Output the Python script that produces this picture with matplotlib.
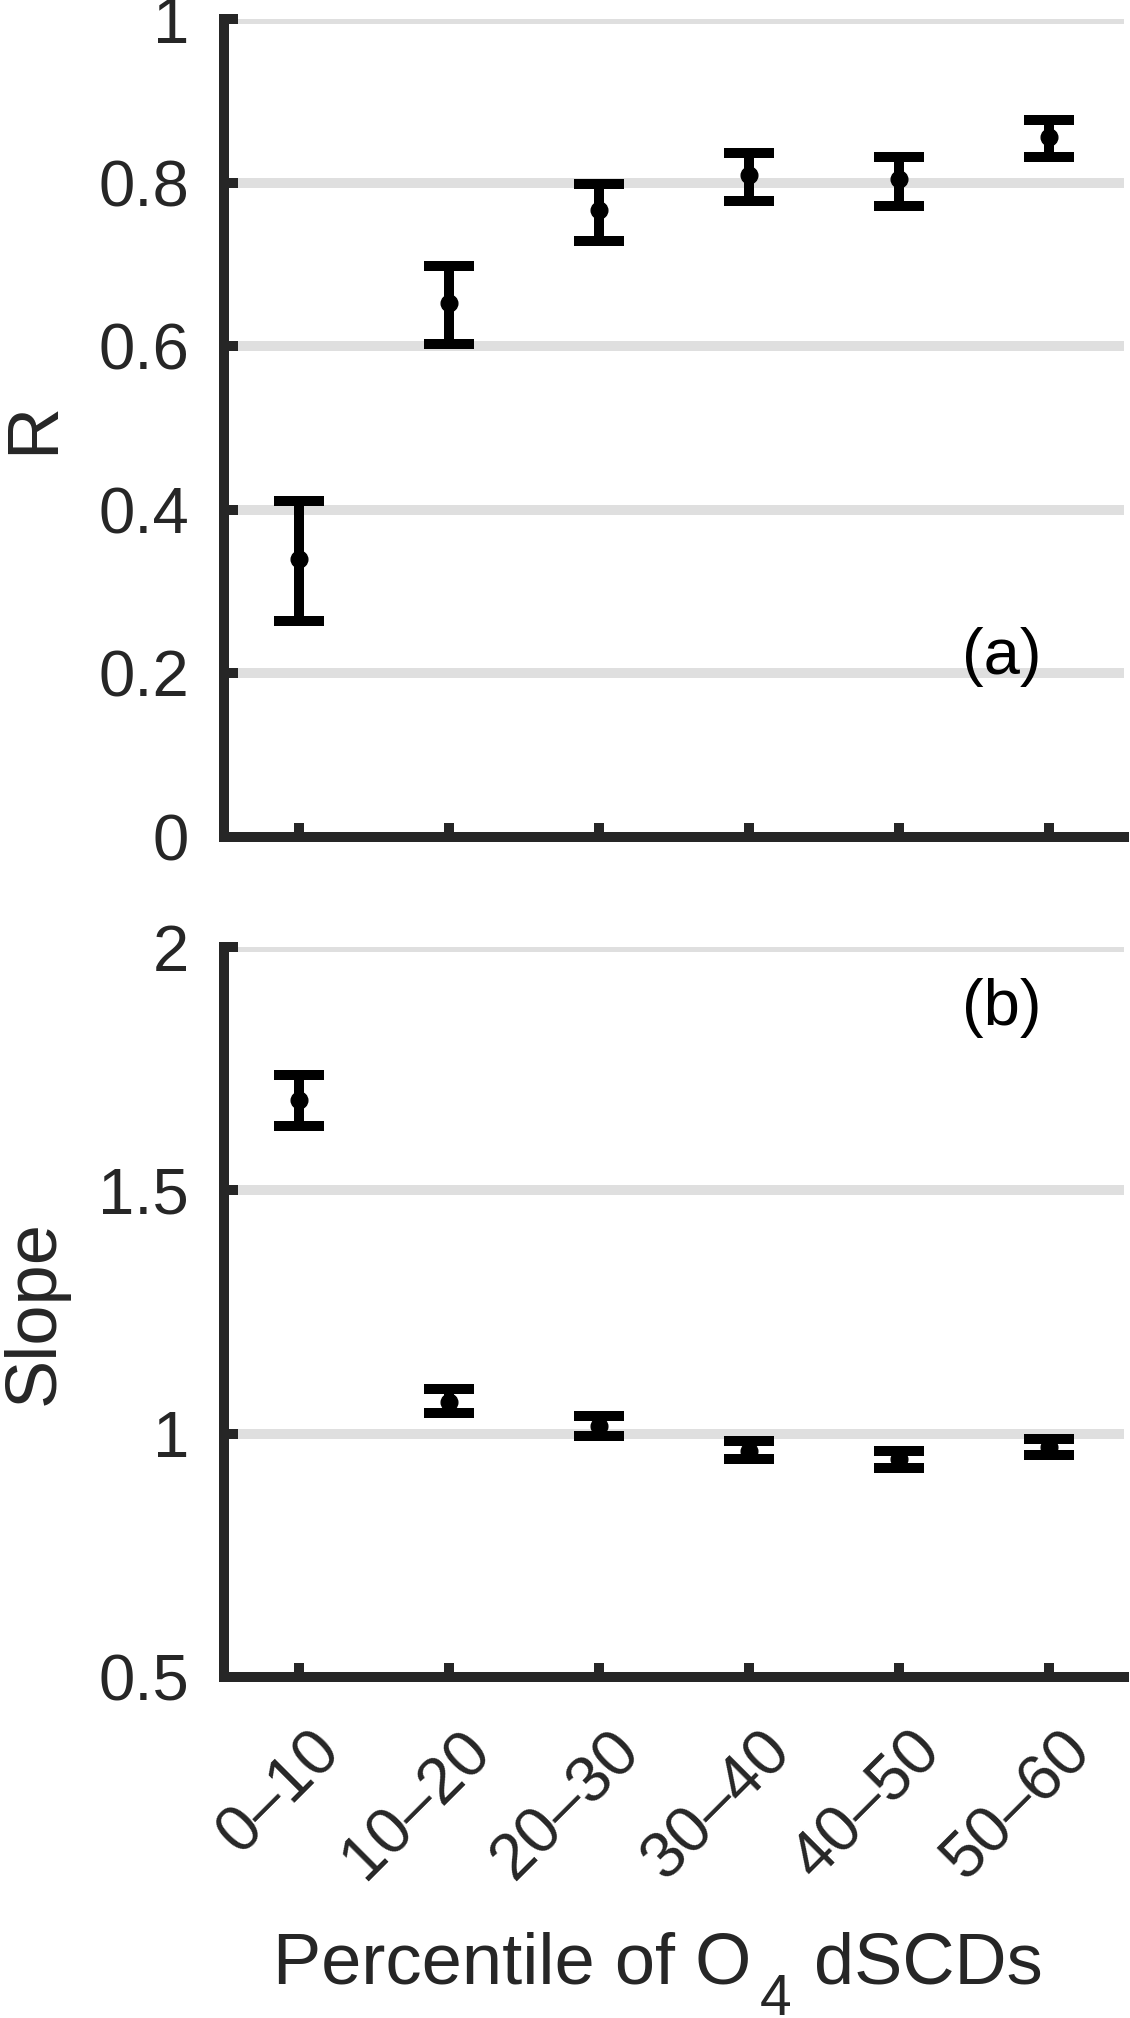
import numpy as np
import matplotlib
matplotlib.use("Agg")
import matplotlib.pyplot as plt
from matplotlib.transforms import ScaledTranslation

plt.rcParams['font.family'] = ['Liberation Sans', 'DejaVu Sans']

# data
categorias = ['0–10', '10–20', '20–30', '30–40', '40–50', '50–60']
r_media = [0.340, 0.653, 0.767, 0.809, 0.804, 0.856]
r_baixo = [0.264, 0.603, 0.729, 0.778, 0.772, 0.832]
r_alto = [0.411, 0.698, 0.799, 0.836, 0.831, 0.877]
slope_media = [1.685, 1.066, 1.015, 0.965, 0.947, 0.972]
slope_baixo = [1.632, 1.042, 0.995, 0.947, 0.929, 0.957]
slope_alto = [1.737, 1.092, 1.037, 0.984, 0.965, 0.989]
r_ticks = [0, 0.2, 0.4, 0.6, 0.8, 1]
r_ticklabels = ['0', '0.2', '0.4', '0.6', '0.8', '1']
slope_ticks = [0.5, 1, 1.5, 2]
slope_ticklabels = ['0.5', '1', '1.5', '2']

cor_texto = '#262626'
lw = 7.2
fs_tick = 47
fs_label = 52

W, H = 1130, 2018
fig = plt.figure(figsize=(W / 100, H / 100), dpi=100)
ax1 = fig.add_axes([0.1982, 0.5852, 0.7965, 0.4053])
ax2 = fig.add_axes([0.1982, 0.1690, 0.7965, 0.3617])

x = np.arange(1, len(categorias) + 1)


def estilo(ax, ticks, ticklabels, ylim):
    ax.set_xlim(0.5, 6.5)
    ax.set_ylim(*ylim)
    ax.set_xticks(x)
    ax.set_yticks(ticks)
    ax.set_yticklabels(ticklabels)
    for s in ['top', 'right']:
        ax.spines[s].set_visible(False)
    for s in ['left', 'bottom']:
        ax.spines[s].set_linewidth(lw)
        ax.spines[s].set_color(cor_texto)
    ax.tick_params(direction='in', length=10, width=lw, color=cor_texto,
                   labelcolor=cor_texto, labelsize=fs_tick)
    ax.tick_params(axis='y', pad=25)
    ax.yaxis.grid(True, color='#dfdfdf', lw=lw)
    ax.set_axisbelow(True)


def barras(ax, media, baixo, alto):
    media = np.array(media)
    yerr = [media - np.array(baixo), np.array(alto) - media]
    ax.errorbar(x, media, yerr=yerr, fmt='o', color='black', ms=12,
                elinewidth=lw, capsize=18, capthick=lw, zorder=3)


estilo(ax1, r_ticks, r_ticklabels, (0, 1))
barras(ax1, r_media, r_baixo, r_alto)
ax1.set_xticklabels([])
ax1.set_ylabel('R', fontsize=fs_label, color=cor_texto)
ax1.yaxis.set_label_coords(-0.173, 0.5)
ax1.text(0.864, 0.22, '(a)', transform=ax1.transAxes, ha='center', va='center',
         fontsize=fs_tick, color='black')

estilo(ax2, slope_ticks, slope_ticklabels, (0.5, 2))
barras(ax2, slope_media, slope_baixo, slope_alto)
ax2.set_xticklabels(categorias, rotation=45, ha='right', va='center',
                    rotation_mode='anchor')
ax2.tick_params(axis='x', pad=0)
desloc = ScaledTranslation(0.32, -0.64, fig.dpi_scale_trans)
for rot in ax2.get_xticklabels():
    rot.set_transform(rot.get_transform() + desloc)
ax2.set_ylabel('Slope', fontsize=fs_label, color=cor_texto)
ax2.yaxis.set_label_coords(-0.173, 0.5)
ax2.text(0.864, 0.916, '(b)', transform=ax2.transAxes, ha='center', va='center',
         fontsize=fs_tick, color='black')

# x label with a large, low subscript as in the reference
fig.text(273 / W, 1 - 1983 / H, 'Percentile of O', fontsize=fs_label,
         color=cor_texto, ha='left', va='baseline')
fig.text(760 / W, 1 - 2015 / H, '4', fontsize=41,
         color=cor_texto, ha='left', va='baseline')
fig.text(814 / W, 1 - 1983 / H, 'dSCDs', fontsize=fs_label,
         color=cor_texto, ha='left', va='baseline')

fig.savefig('out.png', dpi=100)
